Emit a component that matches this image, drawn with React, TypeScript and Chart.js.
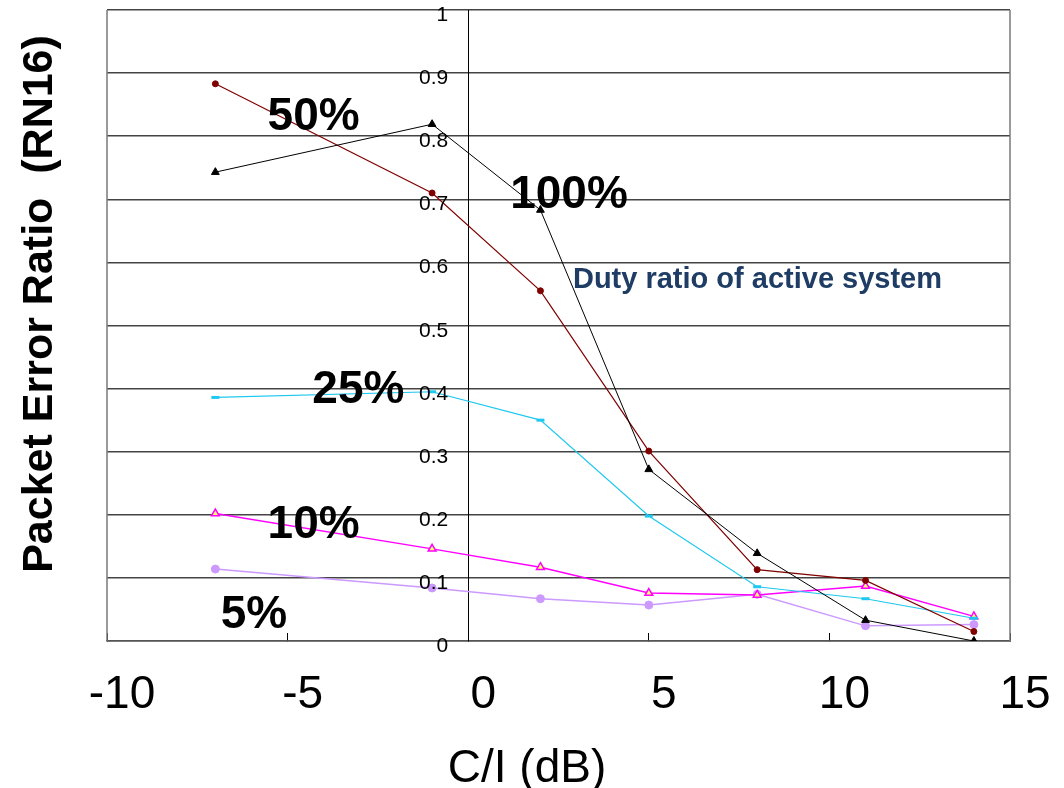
import React, { useEffect, useRef } from "react";
import { Chart, registerables } from "chart.js";

Chart.register(...registerables);

const FONT = "'Liberation Sans', Arial, Helvetica, sans-serif";

// C/I values (dB)
const ciValues = [-7, -1, 2, 5, 8, 11, 14];

// Packet error ratio per duty ratio of active system
const duty100 = [0.743, 0.819, 0.683, 0.272, 0.139, 0.033, 0.0];
const duty50 = [0.883, 0.71, 0.555, 0.301, 0.113, 0.096, 0.015];
const duty25 = [0.386, 0.395, 0.35, 0.198, 0.086, 0.067, 0.036];
const duty10 = [0.202, 0.146, 0.117, 0.076, 0.073, 0.087, 0.039];
const duty5 = [0.114, 0.084, 0.067, 0.057, 0.074, 0.024, 0.026];

const seriesNames = ["100%", "50%", "25%", "10%", "5%"];

const xTicks = [-10, -5, 0, 5, 10, 15];
const yTicks = [0, 0.1, 0.2, 0.3, 0.4, 0.5, 0.6, 0.7, 0.8, 0.9, 1];

const xTitle = "C/I (dB)";
const yTitle = "Packet Error Ratio  (RN16)";
const noteText = "Duty ratio of active system";

// label anchors in data coordinates (x value, baseline y value)
const seriesLabelAnchors = [
  { text: "100%", x: 2.79, y: 0.686 },
  { text: "50%", x: -4.28, y: 0.81 },
  { text: "25%", x: -3.04, y: 0.377 },
  { text: "10%", x: -4.28, y: 0.163 },
  { text: "5%", x: -5.93, y: 0.0206 },
];
const noteAnchor = { x: 2.9, y: 0.559 };

const fmtY = (v: number) => (v === 0 ? "0" : v === 1 ? "1" : v.toFixed(1));

const toPoints = (vals: number[]) => vals.map((v, i) => ({ x: ciValues[i], y: v }));

const decorPlugin = {
  id: "decor",
  beforeDatasetsDraw(chart: any) {
    const { ctx, chartArea } = chart;
    ctx.save();
    ctx.strokeStyle = "#7a7a7a";
    ctx.lineWidth = 1.5;
    ctx.beginPath();
    ctx.moveTo(chartArea.left, chartArea.top);
    ctx.lineTo(chartArea.left, chartArea.bottom);
    ctx.moveTo(chartArea.right, chartArea.top);
    ctx.lineTo(chartArea.right, chartArea.bottom);
    ctx.stroke();
    ctx.restore();
  },
  afterDraw(chart: any) {
    const { ctx, scales } = chart;
    const xs = scales.x;
    const ys = scales.y;
    ctx.save();
    // y tick labels beside the y axis at x = 0
    const x0 = xs.getPixelForValue(0);
    ctx.font = `21px ${FONT}`;
    ctx.fillStyle = "#000";
    ctx.textAlign = "right";
    ctx.textBaseline = "alphabetic";
    yTicks.forEach((v) => {
      ctx.fillText(fmtY(v), x0 - 20, ys.getPixelForValue(v) + 11);
    });

    // series labels
    ctx.font = `bold 46px ${FONT}`;
    ctx.textAlign = "center";
    seriesLabelAnchors.forEach((a) => {
      ctx.fillText(a.text, xs.getPixelForValue(a.x), ys.getPixelForValue(a.y));
    });

    // note
    ctx.font = `bold 29px ${FONT}`;
    ctx.fillStyle = "#1f3d64";
    ctx.textAlign = "left";
    ctx.fillText(noteText, xs.getPixelForValue(noteAnchor.x), ys.getPixelForValue(noteAnchor.y));

    // axis titles
    ctx.fillStyle = "#000";
    ctx.font = `46px ${FONT}`;
    ctx.textAlign = "center";
    ctx.fillText(xTitle, 527, 782);

    ctx.save();
    ctx.translate(52, 304);
    ctx.rotate(-Math.PI / 2);
    ctx.font = `bold 43px ${FONT}`;
    ctx.textAlign = "center";
    ctx.fillText(yTitle, 0, 0);
    ctx.restore();

    ctx.restore();
  },
};

export default function App() {
  const ref = useRef<HTMLCanvasElement | null>(null);

  useEffect(() => {
    if (!ref.current) return;
    const chart = new Chart(ref.current, {
      type: "line",
      data: {
        datasets: [
          {
            label: seriesNames[0],
            data: toPoints(duty100),
            borderColor: "#000000",
            backgroundColor: "#000000",
            borderWidth: 1,
            pointStyle: "triangle",
            pointRadius: 4.5,
            pointBorderWidth: 1,
          },
          {
            label: seriesNames[1],
            data: toPoints(duty50),
            borderColor: "#800000",
            backgroundColor: "#800000",
            borderWidth: 1.2,
            pointStyle: "circle",
            pointRadius: 3,
            pointBorderWidth: 1,
          },
          {
            label: seriesNames[2],
            data: toPoints(duty25),
            borderColor: "#1ec8f0",
            backgroundColor: "#1ec8f0",
            borderWidth: 1.2,
            pointStyle: "line",
            pointRadius: 4,
            pointBorderWidth: 3,
          },
          {
            label: seriesNames[3],
            data: toPoints(duty10),
            borderColor: "#ff00ff",
            backgroundColor: "#ffff66",
            borderWidth: 1.5,
            pointStyle: "triangle",
            pointRadius: 4.5,
            pointBorderWidth: 1.5,
          },
          {
            label: seriesNames[4],
            data: toPoints(duty5),
            borderColor: "#cc99ff",
            backgroundColor: "#cc99ff",
            borderWidth: 1.5,
            pointStyle: "circle",
            pointRadius: 4,
            pointBorderWidth: 1,
          },
        ],
      },
      options: {
        responsive: false,
        animation: false,
        layout: { padding: { left: 107, right: 54, top: 10, bottom: 0 } },
        plugins: {
          legend: { display: false },
          tooltip: { enabled: false },
          title: { display: false },
        },
        elements: { line: { tension: 0 } },
        scales: {
          x: {
            type: "linear",
            position: "bottom",
            min: -10,
            max: 15,
            afterBuildTicks: (s: any) => {
              s.ticks = xTicks.map((v) => ({ value: v }));
            },
            afterFit: (s: any) => {
              s.height = 147;
              s.paddingLeft = 0;
              s.paddingRight = 0;
            },
            grid: {
              drawOnChartArea: false,
              drawTicks: true,
              tickLength: -8,
              color: "#000",
              lineWidth: 1,
            },
            border: { display: true, color: "#555", width: 1.5 },
            ticks: {
              font: { family: FONT, size: 46 },
              color: "#000",
              padding: 35,
              labelOffset: 15,
              maxRotation: 0,
              autoSkip: false,
            },
          },
          y: {
            type: "linear",
            position: { x: 0 } as any,
            min: 0,
            max: 1,
            afterBuildTicks: (s: any) => {
              s.ticks = yTicks.map((v) => ({ value: v }));
            },
            afterFit: (s: any) => {
              s.paddingTop = 0;
              s.paddingBottom = 0;
            },
            grid: {
              color: "#444",
              lineWidth: 1.5,
              drawTicks: false,
            },
            border: { display: true, color: "#000", width: 1 },
            ticks: { display: false },
          },
        },
      },
      plugins: [decorPlugin],
    } as any);
    return () => chart.destroy();
  }, []);

  return (
    <div style={{ position: "absolute", left: 0, top: 0, width: 1064, height: 788, background: "#fff" }}>
      <canvas ref={ref} width={1064} height={788} style={{ display: "block" }} />
    </div>
  );
}
